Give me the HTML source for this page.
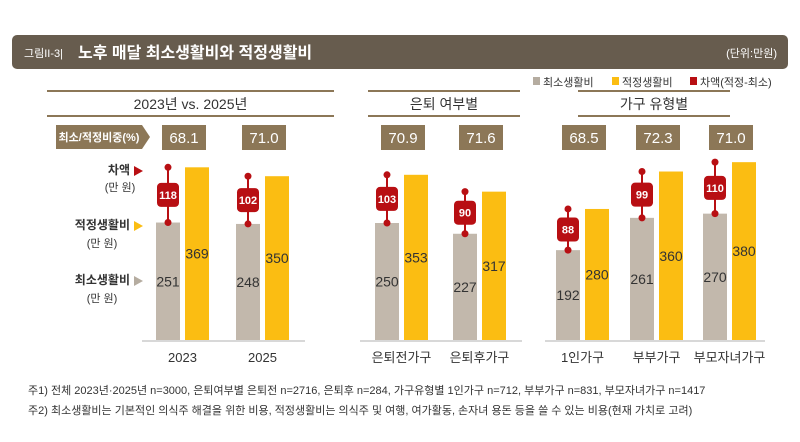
<!DOCTYPE html>
<html><head><meta charset="utf-8"><style>
body{margin:0;width:800px;height:437px;background:#fff;overflow:hidden;font-family:"Liberation Sans","Noto Sans CJK KR",sans-serif;}
svg text{font-family:"Liberation Sans","Noto Sans CJK KR",sans-serif;}
</style></head><body>
<svg width="800" height="437" viewBox="0 0 800 437">
<rect x="12" y="35" width="776" height="34" rx="5" fill="#675c4e"/>
<text x="24" y="57" font-size="11" fill="#fff">그림II-3|</text>
<text x="78" y="58" font-size="16" font-weight="bold" fill="#fff">노후 매달 최소생활비와 적정생활비</text>
<text x="777" y="57" font-size="11" fill="#fff" text-anchor="end">(단위:만원)</text>
<g>
<rect x="533" y="77" width="7" height="8" fill="#b5aca0"/><text x="543" y="86" font-size="11" fill="#333">최소생활비</text>
<rect x="612" y="77" width="7" height="8" fill="#fbbd12"/><text x="622" y="86" font-size="11" fill="#333">적정생활비</text>
<rect x="690" y="77" width="7" height="8" fill="#b80f13"/><text x="700" y="86" font-size="11" fill="#333">차액(적정-최소)</text>
</g>
<g id="sections"></g>
<g>
<path d="M56 125 H142 L150 137 L142 149 H56 Z" fill="#8c7757"/>
<text x="99" y="141" font-size="11" font-weight="bold" fill="#fff" text-anchor="middle">최소/적정비중(%)</text>
<text x="130" y="174" font-size="12" font-weight="bold" text-anchor="end" fill="#333">차액</text>
<path d="M134 166 L143 171 L134 176Z" fill="#b80f13"/>
<text x="120" y="191" font-size="11" text-anchor="middle" fill="#333">(만 원)</text>
<text x="130" y="229" font-size="12" font-weight="bold" text-anchor="end" fill="#333">적정생활비</text>
<path d="M134 221 L143 226 L134 231Z" fill="#fbbd12"/>
<text x="102" y="247" font-size="11" text-anchor="middle" fill="#333">(만 원)</text>
<text x="130" y="284" font-size="12" font-weight="bold" text-anchor="end" fill="#333">최소생활비</text>
<path d="M134 276 L143 281 L134 286Z" fill="#b5aca0"/>
<text x="102" y="302" font-size="11" text-anchor="middle" fill="#333">(만 원)</text>
</g>
<g id="bars"></g>
<text x="28" y="394" font-size="11" fill="#333">주1) 전체 2023년·2025년 n=3000, 은퇴여부별 은퇴전 n=2716, 은퇴후 n=284, 가구유형별 1인가구 n=712, 부부가구 n=831, 부모자녀가구 n=1417</text>
<text x="28" y="414" font-size="11" fill="#333">주2) 최소생활비는 기본적인 의식주 해결을 위한 비용,  적정생활비는 의식주 및 여행, 여가활동, 손자녀 용돈 등을 쓸 수 있는 비용(현재 가치로 고려)</text>
</svg>
<script>
const categories=["2023","2025","은퇴전가구","은퇴후가구","1인가구","부부가구","부모자녀가구"];
const minCost=[251,248,250,227,192,261,270];
const properCost=[369,350,353,317,280,360,380];
const diffValues=[118,102,103,90,88,99,110];
const ratioLabels=["68.1","71.0","70.9","71.6","68.5","72.3","71.0"];
const sectionTitles=["2023년 vs. 2025년","은퇴 여부별","가구 유형별"];
const ns="http://www.w3.org/2000/svg";
const groupX=[156,236,375,453,556,630,703];
const secs=[[47,334,142,305],[368,520,360,522],[578,730,545,765]];
const base=340,k=0.468;
const y=v=>base-v*k;
function mk(p,t,a,txt){const e=document.createElementNS(ns,t);for(const q in a)e.setAttribute(q,a[q]);if(txt!=null)e.textContent=txt;p.appendChild(e);return e;}
const S=document.getElementById('sections'),B=document.getElementById('bars');
sectionTitles.forEach((t,i)=>{const [a,b,c,d]=secs[i];
const g=mk(S,'g',{});


mk(g,'rect',{x:a,y:90,width:b-a,height:2,fill:'#8c7757'});
mk(g,'rect',{x:a,y:115,width:b-a,height:2,fill:'#8c7757'});
mk(g,'text',{x:(a+b)/2,y:109,'font-size':14,'text-anchor':'middle',fill:'#333'},t);
const l=mk(S,'line',{x1:c,x2:d,y1:base+1,y2:base+1,stroke:'#ccc','stroke-width':1.5});


});
categories.forEach((c,i)=>{const x=groupX[i],w=24,x2=x+29;
const g=mk(B,'g',{});


const r=mk(g,'rect',{x:x+6,y:125,width:44,height:25,fill:'#8c7757'});

mk(g,'text',{x:x+28,y:143,'font-size':15,'text-anchor':'middle',fill:'#fff'},ratioLabels[i]);
const b1=mk(g,'rect',{x:x,y:y(minCost[i]),width:w,height:minCost[i]*k,fill:'#c2b8ac'});

mk(g,'text',{x:x+w/2,y:(y(minCost[i])+base)/2+5,'font-size':14,'text-anchor':'middle',fill:'#333'},minCost[i]);
const b2=mk(g,'rect',{x:x2,y:y(properCost[i]),width:w,height:properCost[i]*k,fill:'#fbbd12'});

mk(g,'text',{x:x2+w/2,y:(y(properCost[i])+base)/2+5,'font-size':14,'text-anchor':'middle',fill:'#333'},properCost[i]);
const cx=x+w/2,yb=y(minCost[i]),yt=y(minCost[i]+diffValues[i]),ym=(yb+yt)/2;
const d=mk(g,'g',{});


mk(d,'line',{x1:cx,x2:cx,y1:yt,y2:yb,stroke:'#b80f13','stroke-width':2});
mk(d,'circle',{cx:cx,cy:yt,r:3.5,fill:'#b80f13'});
mk(d,'circle',{cx:cx,cy:yb,r:3.5,fill:'#b80f13'});
mk(d,'rect',{x:cx-11,y:ym-12,width:22,height:24,rx:4,fill:'#b80f13'});
mk(d,'text',{x:cx,y:ym+4,'font-size':11,'font-weight':'bold','text-anchor':'middle',fill:'#fff'},diffValues[i]);
mk(g,'text',{x:(x+x2+w)/2,y:362,'font-size':13,'text-anchor':'middle',fill:'#333'},c);
});
</script>
</body></html>
